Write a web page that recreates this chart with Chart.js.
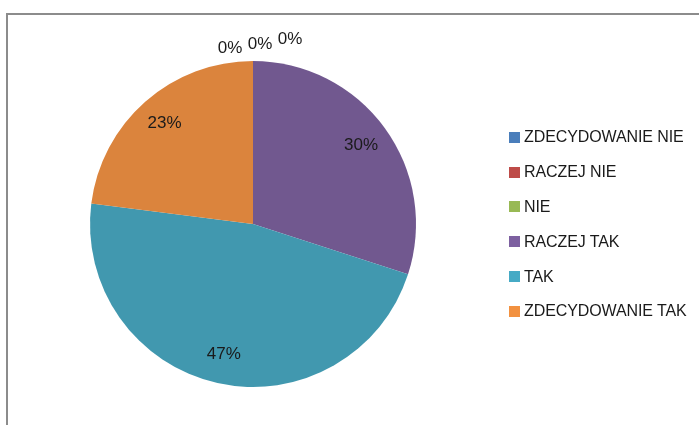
<!DOCTYPE html>
<html>
<head>
<meta charset="utf-8">
<script src="https://cdn.jsdelivr.net/npm/chart.js@4/dist/chart.umd.min.js"></script>
<style>
  html, body { margin: 0; padding: 0; background: #fff; }
  #wrap { position: relative; width: 699px; height: 425px; overflow: hidden; }
  #frame { position: absolute; left: 6px; top: 13px; width: 800px; height: 500px;
           border-left: 2px solid #8c8c8c; border-top: 2px solid #8c8c8c; box-sizing: border-box; }
  canvas { position: absolute; left: 0; top: 0; }
  #legend { position: absolute; left: 509px; top: 120px; font-family: "Liberation Sans", Arial, sans-serif;
            font-size: 16px; color: #1a1a1a; }
  .item { display: flex; align-items: center; height: 34.8px; white-space: nowrap; letter-spacing: -0.1px; }
  .sw { width: 11px; height: 11px; margin-right: 4px; flex: none; }
</style>
</head>
<body>
<div id="wrap">
  <div id="frame"></div>
  <canvas id="c" width="699" height="425"></canvas>
  <div id="legend"></div>
</div>
<script>
const categories = ["ZDECYDOWANIE NIE", "RACZEJ NIE", "NIE", "RACZEJ TAK", "TAK", "ZDECYDOWANIE TAK"];
const percentValues = [0, 0, 0, 30, 47, 23];
const sliceColors = ["#4A7EBB", "#BE4B48", "#98B954", "#71588F", "#4198AF", "#DB843D"];
const legendColors = ["#4A7EBB", "#BE4B48", "#98B954", "#7D60A0", "#46AAC5", "#F29140"];

const labelPlugin = {
  id: 'pctLabels',
  afterDatasetsDraw(chart) {
    const ctx = chart.ctx;
    const meta = chart.getDatasetMeta(0);
    ctx.save();
    ctx.font = '17px "Liberation Sans", Arial, sans-serif';
    ctx.fillStyle = '#1a1a1a';
    ctx.textAlign = 'center';
    ctx.textBaseline = 'middle';
    let zeroIdx = 0;
    meta.data.forEach((arc, i) => {
      const v = percentValues[i];
      const p = arc.getProps(['x', 'y', 'startAngle', 'endAngle', 'outerRadius'], true);
      const txt = v + '%';
      if (v === 0) {
        const x = p.x - 23 + zeroIdx * 30;
        const y = p.y - p.outerRadius - 12.5 - zeroIdx * 4.5;
        ctx.fillText(txt, x, y);
        zeroIdx++;
      } else {
        const mid = (p.startAngle + p.endAngle) / 2;
        const r = p.outerRadius * 0.82;
        ctx.fillText(txt, p.x + Math.cos(mid) * r, p.y + Math.sin(mid) * r);
      }
    });
    ctx.restore();
  }
};

new Chart(document.getElementById('c'), {
  type: 'pie',
  data: {
    labels: categories,
    datasets: [{
      data: percentValues,
      backgroundColor: sliceColors,
      borderWidth: 0
    }]
  },
  options: {
    responsive: false,
    animation: false,
    layout: { padding: { left: 90, right: 283, top: 61, bottom: 38 } },
    plugins: {
      legend: { display: false },
      tooltip: { enabled: false }
    }
  },
  plugins: [labelPlugin]
});

const legendEl = document.getElementById('legend');
categories.forEach((name, i) => {
  const row = document.createElement('div');
  row.className = 'item';
  const sw = document.createElement('span');
  sw.className = 'sw';
  sw.style.background = legendColors[i];
  const t = document.createElement('span');
  t.textContent = name;
  row.appendChild(sw);
  row.appendChild(t);
  legendEl.appendChild(row);
});
</script>
</body>
</html>
